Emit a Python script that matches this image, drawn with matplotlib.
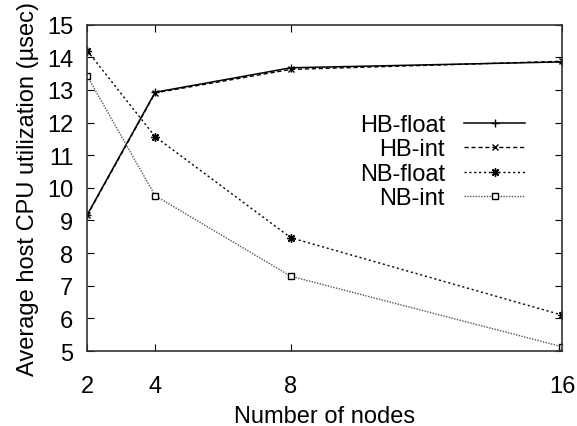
import matplotlib
matplotlib.use("Agg")
import matplotlib.pyplot as plt

plt.rcParams['font.family'] = ['Liberation Sans', 'DejaVu Sans']

# data
nodes = [2, 4, 8, 16]
hb_float = [9.18, 12.93, 13.68, 13.86]
hb_int = [9.16, 12.91, 13.63, 13.88]
nb_float = [14.20, 11.57, 8.47, 6.10]
nb_int = [13.42, 9.76, 7.29, 5.13]

xticks = [2, 4, 8, 16]
yticks = list(range(5, 16))

fig = plt.figure(figsize=(5.77, 4.27), dpi=100)
ax = fig.add_axes([0.1513, 0.1756, 0.8232, 0.7642])

ax.plot(nodes, hb_float, color='black', lw=1.1, ls='-',
        marker='+', ms=6, mew=1, label='HB-float')
ax.plot(nodes, hb_int, color='black', lw=1, ls=(0, (3, 2)),
        marker='x', ms=4.5, mew=1, label='HB-int')
ax.plot(nodes, nb_float, color='black', lw=1, ls=(0, (1.5, 2)),
        marker=(8, 2, 0), ms=6, mew=1, label='NB-float')
ax.plot(nodes, nb_int, color='#555555', lw=1, ls=(0, (1, 1)),
        marker='s', ms=5, mew=1, mfc='white', mec='black', label='NB-int')

ax.set_xlim(2, 16)
ax.set_ylim(5, 15)
ax.set_xticks(xticks)
ax.set_yticks(yticks)
ax.tick_params(direction='in', top=True, right=True, length=5, labelsize=17)
ax.tick_params(axis='x', pad=17)
ax.tick_params(axis='y', pad=10)
for s in ax.spines.values():
    s.set_linewidth(1.2)
    s.set_color('#333333')

ax.set_xlabel('Number of nodes', fontsize=17, labelpad=6)
ax.set_ylabel('Average host CPU utilization (\u00b5sec)', fontsize=17, labelpad=6)

ax.legend(loc='upper right', bbox_to_anchor=(0.922, 0.726), frameon=False,
          markerfirst=False, fontsize=17, handlelength=2.6, handletextpad=0.8,
          labelspacing=0.1, borderpad=0, borderaxespad=0)

fig.savefig('out.png', dpi=100)
